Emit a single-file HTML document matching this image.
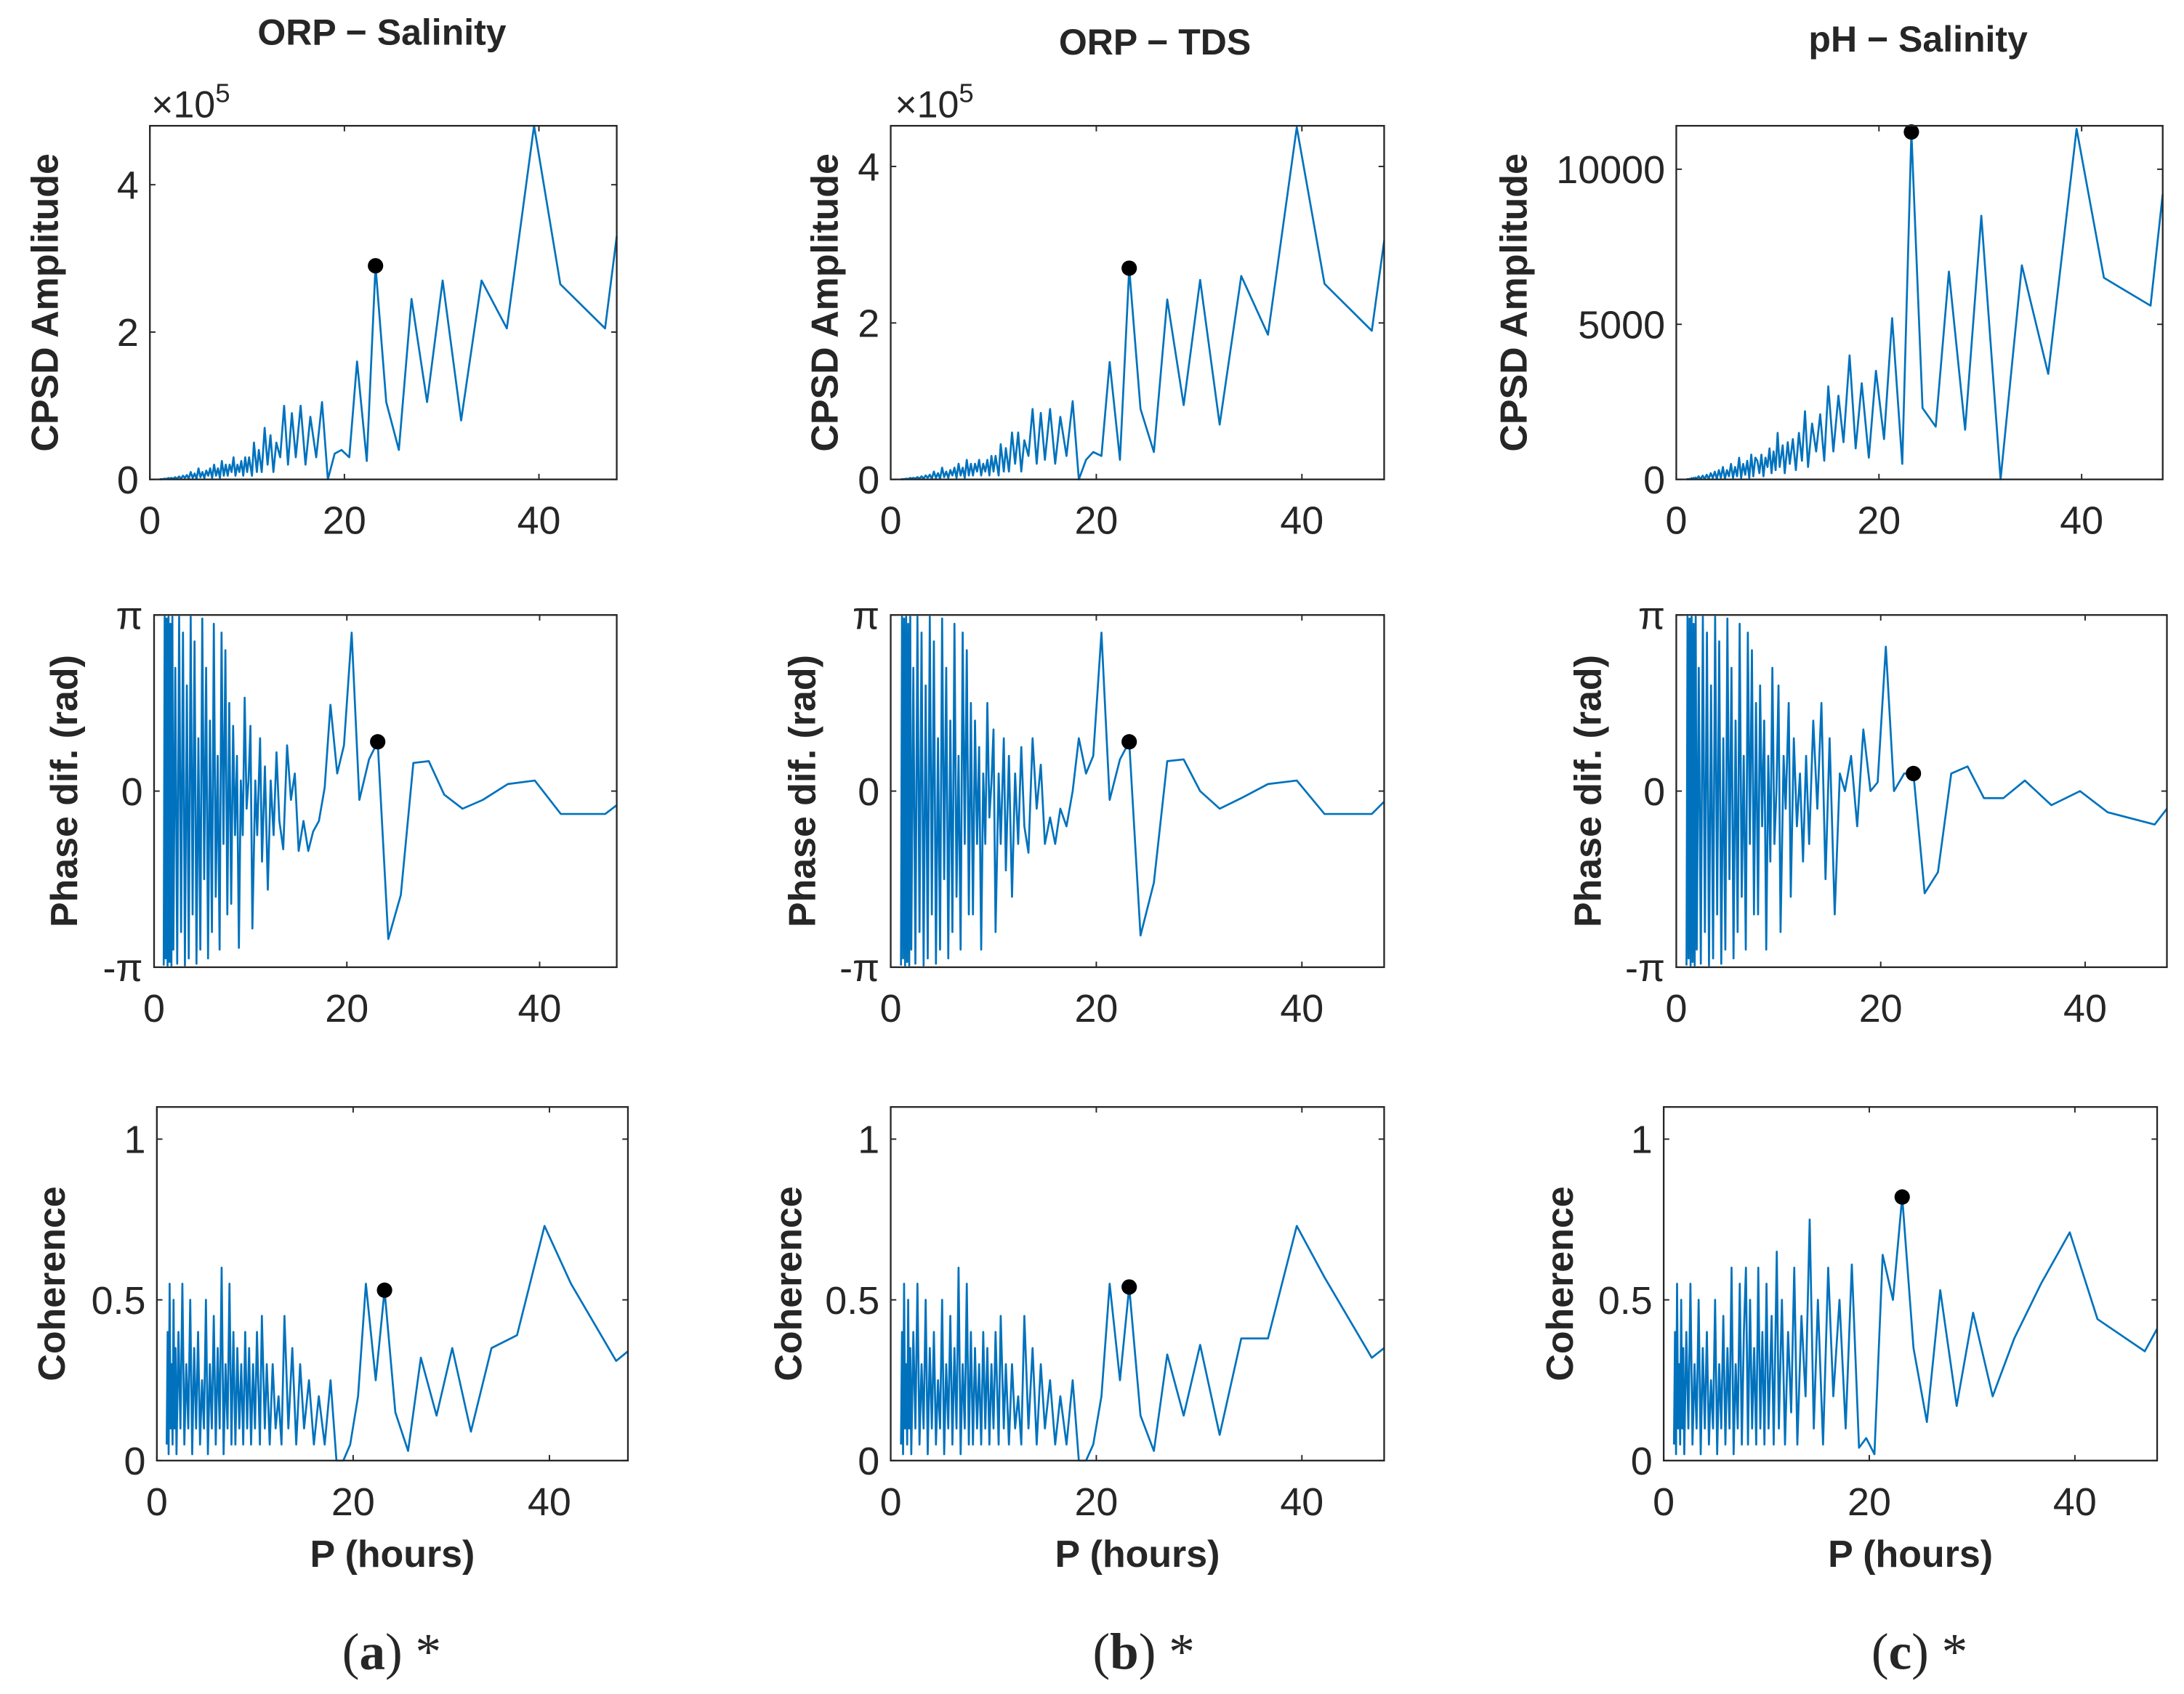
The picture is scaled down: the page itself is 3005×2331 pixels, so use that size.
<!DOCTYPE html>
<html><head><meta charset="utf-8"><style>
html,body{margin:0;padding:0;background:#fff}
svg{display:block}
text{font-family:"Liberation Sans",sans-serif;fill:#262626}
</style></head><body>
<svg id="fig" width="3005" height="2331" viewBox="0 0 1562 1212" xmlns="http://www.w3.org/2000/svg">
<rect width="1562" height="1212" fill="#fff"/>
<text x="273" y="32" font-size="26" font-weight="bold" text-anchor="middle">ORP − Salinity</text>
<text x="826" y="39" font-size="26" font-weight="bold" text-anchor="middle">ORP − TDS</text>
<text x="1372" y="37" font-size="26" font-weight="bold" text-anchor="middle">pH − Salinity</text>
<text x="280" y="1194" font-size="37" text-anchor="middle" style="font-family:'Liberation Serif',serif">(<tspan font-weight="bold">a</tspan>) *</text>
<text x="818" y="1194" font-size="37" text-anchor="middle" style="font-family:'Liberation Serif',serif">(<tspan font-weight="bold">b</tspan>) *</text>
<text x="1373" y="1194" font-size="37" text-anchor="middle" style="font-family:'Liberation Serif',serif">(<tspan font-weight="bold">c</tspan>) *</text>
</svg>
<script>
const periods=[48,46.8,42.2,39.5,36.7,34.1,32,30.1,28.5,26.9,25.6,24.3,23.2,22.3,21.3,20.5,19.7,19.0,18.3,17.7,17.1,16.5,16.0,15.5,15.0,14.6,14.2,13.8,13.4,13.0,12.7,12.4,12.1,11.8,11.5,11.2,11.0,10.7,10.5,10.2,10.0,9.8,9.6,9.4,9.2,9.0,8.8,8.6,8.4,8.2,8.0,7.8,7.6,7.4,7.2,7.0,6.8,6.6,6.4,6.2,6.0,5.8,5.6,5.4,5.2,5.0,4.8,4.6,4.4,4.2,4.0,3.8,3.6,3.4,3.2,3.0,2.8,2.6,2.4,2.2,2.0,1.9,1.8,1.7,1.6,1.5,1.4,1.3,1.2,1.1,1.0];
const markerIndex=12;
const cpsdA=[3.3,2.05,2.65,4.8,2.05,2.7,0.8,2.7,1.05,2.45,0.4,1.05,2.9,0.25,1.6,0.3,0.4,0.35,0.0,1.05,0.3,0.85,0.2,1.0,0.3,0.9,0.2,1.0,0.3,0.5,0.1,0.6,0.2,0.7,0.1,0.4,0.1,0.5,0.05,0.3,0.1,0.3,0.05,0.25,0.1,0.2,0.05,0.3,0.1,0.2,0.05,0.2,0.05,0.25,0.02,0.15,0.05,0.2,0.02,0.15,0.05,0.12,0.02,0.1,0.03,0.15,0.01,0.08,0.02,0.1,0.01,0.06,0.02,0.05,0.01,0.04,0.01,0.03,0.01,0.02,0.01,0.02,0.005,0.01,0.005,0.01,0.005,0.005,0.002,0.003,0.001];
const cpsdB=[3.05,1.9,2.5,4.5,1.85,2.6,0.7,2.55,0.95,2.3,0.35,0.9,2.7,0.25,1.5,0.3,0.35,0.25,0.0,1.0,0.3,0.8,0.2,0.9,0.25,0.85,0.2,0.9,0.3,0.5,0.1,0.6,0.2,0.6,0.1,0.4,0.1,0.45,0.05,0.3,0.1,0.3,0.05,0.25,0.1,0.2,0.05,0.25,0.1,0.2,0.05,0.2,0.05,0.25,0.02,0.15,0.05,0.2,0.02,0.15,0.05,0.12,0.02,0.1,0.03,0.15,0.01,0.08,0.02,0.1,0.01,0.06,0.02,0.05,0.01,0.04,0.01,0.03,0.01,0.02,0.01,0.02,0.005,0.01,0.005,0.01,0.005,0.005,0.002,0.003,0.001];
const cpsdC=[9200,5600,6500,11300,3400,6900,0,8500,1600,6700,1700,2300,11200,500,5200,1300,3500,700,3100,1000,4000,1200,2700,900,3000,600,2100,900,1800,400,2200,600,1500,300,1300,500,1200,200,1100,400,1500,300,900,200,1000,400,700,100,800,200,600,700,100,800,50,600,150,500,50,700,100,400,50,500,100,300,20,400,50,300,20,250,50,200,20,150,20,120,10,100,10,60,10,50,5,40,5,20,5,10,2];
const noisePhase=[0.5,-0.7,0.8,-0.3,0.9,-0.9,0.2,-0.6,0.95,-0.8,0.4,-0.95,0.7,-0.5,0.98,-0.9,0.3,-0.98,0.85,-0.7,0.99,-0.95,0.6,-0.99,0.9,-0.8,0.99,-0.98,0.7,-0.9,0.99,-0.99,0.95,-0.97,0.99,-0.99,0.98,-0.95,0.99,-0.99];
const phaseA=[-0.08,-0.13,-0.13,0.06,0.04,-0.05,-0.1,-0.02,0.17,0.16,-0.59,-0.84,0.28,0.18,-0.05,0.9,0.26,0.1,0.49,0.02,-0.17,-0.23,-0.34,-0.17,-0.34,0.1,-0.05,0.26,-0.33,-0.17,0.22,-0.25,0.06,-0.56,0.14,-0.4,0.3,-0.25,0.06,-0.78,0.37,0.06,-0.1,0.53,-0.25,0.06,-0.89,0.2,-0.25,0.37,-0.64].concat(noisePhase);
const phaseB=[-0.06,-0.13,-0.13,0.06,0.04,-0.04,-0.1,0.0,0.18,0.17,-0.52,-0.82,0.28,0.18,-0.05,0.9,0.2,0.1,0.3,0.0,-0.2,-0.1,-0.3,-0.15,-0.3,0.15,-0.1,0.3,-0.35,-0.2,0.25,-0.3,0.1,-0.6,0.2,-0.45,0.3,-0.3,0.1,-0.8,0.35,0.05,-0.15,0.5,-0.3,0.1,-0.9,0.25,-0.3,0.4,-0.7].concat(noisePhase);
const phaseC=[-0.1,-0.19,-0.12,0.0,-0.08,0.06,-0.04,-0.04,0.14,0.1,-0.46,-0.58,0.1,0.1,0.0,0.82,0.05,0.0,0.35,-0.2,0.2,0.0,0.1,-0.7,0.3,-0.5,0.5,-0.1,0.4,-0.3,0.2,-0.4,0.1,-0.2,0.3,-0.6,0.5,-0.1,0.2,-0.8,0.6,0.0,-0.3,0.7,-0.4,0.2,-0.9,0.4,-0.2,0.6,-0.7].concat(noisePhase);
const noiseCoh=[0.4,0.05,0.55,0.1,0.3,0.02,0.6,0.1,0.35,0.05,0.45,0.1,0.3,0.02,0.5,0.1,0.25,0.05,0.4,0.1,0.35,0.02,0.5,0.1,0.3,0.05,0.55,0.1,0.4,0.02,0.35,0.1,0.5,0.05,0.3,0.1,0.55,0.02,0.4,0.05];
const cohA=[0.34,0.31,0.55,0.73,0.39,0.35,0.09,0.35,0.14,0.32,0.03,0.15,0.53,0.25,0.55,0.2,0.05,0.0,0.0,0.25,0.05,0.2,0.05,0.25,0.1,0.3,0.05,0.35,0.1,0.45,0.05,0.2,0.1,0.3,0.05,0.3,0.1,0.45,0.05,0.4,0.1,0.3,0.05,0.35,0.1,0.4,0.05,0.3,0.1,0.35,0.05].concat(noiseCoh);
const cohB=[0.35,0.32,0.57,0.73,0.38,0.38,0.08,0.36,0.14,0.33,0.03,0.14,0.54,0.25,0.55,0.2,0.05,0.0,0.0,0.25,0.05,0.2,0.05,0.25,0.1,0.3,0.05,0.35,0.1,0.45,0.05,0.2,0.1,0.3,0.05,0.3,0.1,0.45,0.05,0.4,0.1,0.3,0.05,0.35,0.1,0.4,0.05,0.3,0.1,0.35,0.05].concat(noiseCoh);
const cohC=[0.41,0.34,0.44,0.71,0.55,0.38,0.2,0.46,0.17,0.53,0.12,0.35,0.82,0.5,0.64,0.02,0.07,0.04,0.61,0.1,0.5,0.2,0.6,0.05,0.5,0.1,0.75,0.2,0.45,0.05,0.6,0.15,0.4,0.05,0.5,0.1,0.65,0.05,0.45,0.1,0.55,0.05,0.4,0.1,0.6,0.05,0.35,0.1,0.5,0.05,0.6].concat(noiseCoh);
const yTicksCpsd=[0,2,4];
const yTicksCpsdC=[0,5000,10000];
const yTicksPhase=[-1,0,1];
const yTickLabelsPhase=['-π','0','π'];
const yTicksCoh=[0,0.5,1];
const xTicks=[0,20,40];

const NS='http://www.w3.org/2000/svg';
const svg=document.getElementById('fig');
function mk(tag,attrs,parent){const e=document.createElementNS(NS,tag);for(const k in attrs)e.setAttribute(k,attrs[k]);(parent||svg).appendChild(e);return e;}

function panel(id,box,ymin,ymax,values,yticks,ylabels,ylabel,ylabelX,xlabel,scale){
  const g=mk('g',{});
  
  
  const [x0,y0,x1,y1]=box;
  const xs=v=>x0+(v-0)/(48-0)*(x1-x0);
  const ys=v=>y1-(v-ymin)/(ymax-ymin)*(y1-y0);
  let d='';
  periods.forEach((p,i)=>{d+=(i?'L':'M')+xs(p).toFixed(2)+','+ys(values[i]*scale).toFixed(2);});
  const ln=mk('path',{d:d,fill:'none',stroke:'#0072BD','stroke-width':1.4,'stroke-linejoin':'round'},g);
  
  
  const mkr=mk('circle',{cx:xs(periods[markerIndex]),cy:ys(values[markerIndex]*scale),r:5.5,fill:'#000'},g);
  
  
  const fr=mk('rect',{x:x0,y:y0,width:x1-x0,height:y1-y0,fill:'none',stroke:'#262626','stroke-width':1.2},g);
  
  
  xTicks.forEach(t=>{
    const x=xs(t);
    mk('line',{x1:x,x2:x,y1:y1,y2:y1-4,stroke:'#262626'},g);
    mk('line',{x1:x,x2:x,y1:y0,y2:y0+4,stroke:'#262626'},g);
    const tl=mk('text',{x:x,y:y1+39,'font-size':28,'text-anchor':'middle'},g);
    tl.textContent=t;
    
    
  });
  yticks.forEach((t,i)=>{
    const y=ys(t*scale);
    mk('line',{x1:x0,x2:x0+4,y1:y,y2:y,stroke:'#262626'},g);
    mk('line',{x1:x1,x2:x1-4,y1:y,y2:y,stroke:'#262626'},g);
    const tl=mk('text',{x:x0-8,y:y+10,'font-size':28,'text-anchor':'end'},g);
    tl.textContent=ylabels[i];
    
    
  });
  const cy=(y0+y1)/2;
  const yl=mk('text',{x:ylabelX,y:cy,'font-size':27,'font-weight':'bold','text-anchor':'middle',transform:'rotate(-90 '+ylabelX+' '+cy+')'},g);
  yl.textContent=ylabel;
  
  
  if(xlabel){
    const xl=mk('text',{x:(x0+x1)/2,y:1121,'font-size':27,'font-weight':'bold','text-anchor':'middle'},g);
    xl.textContent='P (hours)';
    
    
  }
}
const PI=Math.PI;
panel('cpsd-a',[107,90,441,343],0,4.8,cpsdA,yTicksCpsd,['0','2','4'],'CPSD Amplitude',41,false,1);
panel('cpsd-b',[637,90,990,343],0,4.52,cpsdB,yTicksCpsd,['0','2','4'],'CPSD Amplitude',599,false,1);
panel('cpsd-c',[1199,90,1547,343],0,11400,cpsdC,yTicksCpsdC,['0','5000','10000'],'CPSD Amplitude',1092,false,1);
panel('phase-a',[110,440,441,692],-PI,PI,phaseA,yTicksPhase,yTickLabelsPhase,'Phase dif. (rad)',55,false,PI);
panel('phase-b',[637,440,990,692],-PI,PI,phaseB,yTicksPhase,yTickLabelsPhase,'Phase dif. (rad)',583,false,PI);
panel('phase-c',[1199,440,1550,692],-PI,PI,phaseC,yTicksPhase,yTickLabelsPhase,'Phase dif. (rad)',1145,false,PI);
panel('coherence-a',[112,792,449,1045],0,1.1,cohA,yTicksCoh,['0','0.5','1'],'Coherence',46,true,1);
panel('coherence-b',[637,792,990,1045],0,1.1,cohB,yTicksCoh,['0','0.5','1'],'Coherence',573,true,1);
panel('coherence-c',[1190,792,1543,1045],0,1.1,cohC,yTicksCoh,['0','0.5','1'],'Coherence',1125,true,1);
[[108,'a'],[640,'b']].forEach(([x,k])=>{
  const t=mk('text',{x:x,y:84,'font-size':27});
  t.innerHTML='×10<tspan font-size="19" dy="-11">5</tspan>';
  
  
});
</script>
</body></html>
